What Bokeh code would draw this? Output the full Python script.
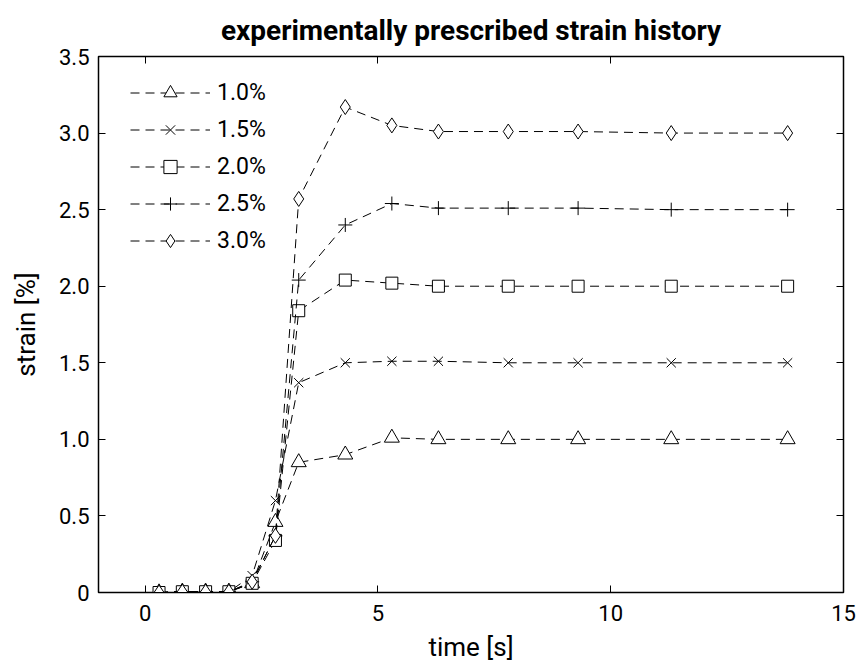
from bokeh.plotting import figure
from bokeh.models import Range1d, LinearAxis, FixedTicker, Legend, LegendItem
from bokeh.embed import file_html
from bokeh.resources import INLINE

time_s = [0.3, 0.8, 1.3, 1.8, 2.3, 2.8, 3.3, 4.3, 5.3, 6.3, 7.8, 9.3, 11.3, 13.8]
strain_10 = [0.0, 0.005, 0.005, 0.005, 0.06, 0.46, 0.85, 0.90, 1.01, 1.00, 1.00, 1.00, 1.00, 1.00]
strain_15 = [0.0, 0.005, 0.005, 0.005, 0.11, 0.60, 1.37, 1.50, 1.51, 1.51, 1.50, 1.50, 1.50, 1.50]
strain_20 = [0.0, 0.005, 0.005, 0.005, 0.06, 0.34, 1.84, 2.04, 2.02, 2.00, 2.00, 2.00, 2.00, 2.00]
strain_25 = [0.0, 0.005, 0.005, 0.005, 0.07, 0.37, 2.04, 2.40, 2.54, 2.51, 2.51, 2.51, 2.50, 2.50]
strain_30 = [0.0, 0.005, 0.005, 0.005, 0.07, 0.37, 2.57, 3.17, 3.05, 3.01, 3.01, 3.01, 3.00, 3.00]
series = [strain_10, strain_15, strain_20, strain_25, strain_30]
series_labels = ["1.0%", "1.5%", "2.0%", "2.5%", "3.0%"]
markers = ["triangle", "x", "square", "cross", "diamond"]
marker_sizes = [15, 13, 12, 14, 15]

x_ticks = [0, 5, 10, 15]
x_tick_labels = ["0", "5", "10", "15"]
y_ticks = [0, 0.5, 1.0, 1.5, 2.0, 2.5, 3.0, 3.5]
y_tick_labels = ["0", "0.5", "1.0", "1.5", "2.0", "2.5", "3.0", "3.5"]

FONT = "Roboto"

p = figure(width=856, height=666, output_backend="svg", toolbar_location=None,
           x_range=Range1d(-1, 15), y_range=Range1d(0, 3.5),
           min_border_left=98, min_border_right=13, min_border_top=56, min_border_bottom=74)
p.xgrid.visible = False
p.ygrid.visible = False
p.outline_line_color = "black"
p.outline_line_width = 1.5
p.background_fill_color = "white"
p.border_fill_color = "white"

p.title.text = "experimentally prescribed strain history"
p.title.align = "center"
p.title.text_font = FONT
p.title.text_font_size = "28px"
p.title.text_font_style = "bold"
p.title.text_color = "black"
p.title.standoff = 19

bottom_ax = p.below[0]
left_ax = p.left[0]

bottom_ax.ticker = FixedTicker(ticks=x_ticks)
bottom_ax.major_label_overrides = {t: l for t, l in zip(x_ticks, x_tick_labels)}
bottom_ax.axis_label = "time [s]"
bottom_ax.axis_label_standoff = 8
bottom_ax.major_label_standoff = 12

left_ax.ticker = FixedTicker(ticks=y_ticks)
left_ax.major_label_overrides = {t: l for t, l in zip(y_ticks, y_tick_labels)}
left_ax.axis_label = "strain [%]"
left_ax.axis_label_standoff = 15
left_ax.major_label_standoff = 9

for ax in [bottom_ax, left_ax]:
    ax.axis_label_text_font = FONT
    ax.axis_label_text_font_size = "26px"
    ax.axis_label_text_font_style = "normal"
    ax.axis_label_text_color = "black"
    ax.major_label_text_font_size = "22px"

top_ax = LinearAxis(ticker=FixedTicker(ticks=x_ticks),
                    major_label_overrides={t: "" for t in x_ticks}, major_label_standoff=0)
right_ax = LinearAxis(ticker=FixedTicker(ticks=y_ticks),
                      major_label_overrides={t: "" for t in y_ticks}, major_label_standoff=0)
p.add_layout(top_ax, "above")
p.add_layout(right_ax, "right")

for ax in [bottom_ax, left_ax, top_ax, right_ax]:
    ax.major_tick_in = 7
    ax.major_tick_out = 0
    ax.minor_tick_line_color = None
    ax.axis_line_color = "black"
    ax.major_tick_line_color = "black"
    ax.major_label_text_font = FONT
    ax.major_label_text_color = "black"

items = []
for ys, lab, mk, ms in zip(series, series_labels, markers, marker_sizes):
    lr = p.line(time_s, ys, line_color="black", line_width=1, line_dash="9 6")
    sr = p.scatter(time_s, ys, marker=mk, size=ms, line_color="black", fill_color="white", line_width=1)
    items.append(LegendItem(label=lab, renderers=[lr, sr]))

legend = Legend(items=items, location=(32, 335), border_line_color=None,
                background_fill_alpha=0, glyph_width=80, glyph_height=33,
                label_height=33, spacing=4, padding=0, margin=0, label_standoff=7,
                label_text_font=FONT, label_text_font_size="23px", label_text_color="black")
p.add_layout(legend, "center")

open("out.html", "w").write(file_html(p, INLINE))
